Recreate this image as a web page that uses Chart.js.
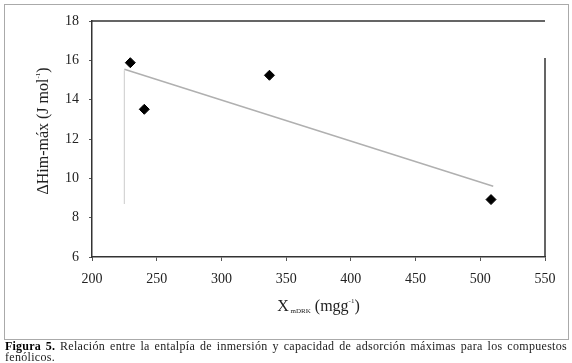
<!DOCTYPE html>
<html>
<head>
<meta charset="utf-8">
<script src="https://cdn.jsdelivr.net/npm/chart.js@4"></script>
<style>
  html, body { margin: 0; padding: 0; background: #fff; }
  #wrap { position: relative; width: 572px; height: 363px; overflow: hidden; }
  #frame { position: absolute; left: 4px; top: 4px; width: 563px; height: 334px; border: 1px solid #aaa; }
  #chart { position: absolute; left: 0; top: 0; }
  #caption {
    position: absolute; left: 5px; top: 341px; width: 562px;
    font-family: "Liberation Serif", "Times New Roman", serif; font-size: 12px;
    letter-spacing: 0.3px; line-height: 11px; color: #222; text-align: justify;
  }
  #caption b { color: #000; letter-spacing: 0.2px; }
</style>
</head>
<body>
<div id="wrap">
  <div id="frame"></div>
  <canvas id="chart" width="572" height="340"></canvas>
  <div id="caption"><b>Figura 5.</b> Relación entre la entalpía de inmersión y capacidad de adsorción máximas para los compuestos fenólicos.</div>
</div>
<script>
// data
const capacity = [229.6, 240.4, 337.1, 508.3];      // X mDRK (mg g-1)
const enthalpy = [15.88, 13.51, 15.24, 8.92];       // ΔHim-máx (J mol-1)
const trendX = [225, 510];
const trendY = [15.55, 9.6];
const guideX = [225, 225];
const guideY = [15.5, 8.7];
const xTicks = [200, 250, 300, 350, 400, 450, 500, 550];
const yTicks = [6, 8, 10, 12, 14, 16, 18];

const serif = '"Liberation Serif", "Times New Roman", serif';
const toPts = (xs, ys) => xs.map((x, i) => ({ x, y: ys[i] }));

const frameLines = {
  id: 'frameLines',
  afterDraw(chart) {
    const { ctx, chartArea: a } = chart;
    ctx.save();
    ctx.strokeStyle = '#333';
    ctx.lineWidth = 1.5;
    ctx.beginPath();
    ctx.moveTo(a.left, a.top);
    ctx.lineTo(a.right, a.top);
    ctx.moveTo(a.right, a.top + 37);
    ctx.lineTo(a.right, a.bottom);
    ctx.stroke();

    // x title with subscript and superscript
    ctx.fillStyle = '#222';
    ctx.textBaseline = 'alphabetic';
    const y = 311;
    const parts = [
      { t: 'X', f: '16px', dy: 0 },
      { t: ' mDRK', f: '7px', dy: 2 },
      { t: ' (mgg', f: '16px', dy: 0 },
      { t: '-1', f: '7px', dy: -8 },
      { t: ')', f: '16px', dy: 0 },
    ];
    let w = 0;
    parts.forEach(p => { ctx.font = p.f + ' ' + serif; w += ctx.measureText(p.t).width; });
    let x = (a.left + a.right) / 2 - w / 2;
    parts.forEach(p => {
      ctx.font = p.f + ' ' + serif;
      ctx.fillText(p.t, x, y + p.dy);
      x += ctx.measureText(p.t).width;
    });

    // y title, rotated
    ctx.translate(48, 131);
    ctx.rotate(-Math.PI / 2);
    const yparts = [
      { t: 'ΔHim-máx (J mol', f: '16px', dy: 0 },
      { t: '-1', f: '7px', dy: -8 },
      { t: ')', f: '16px', dy: 0 },
    ];
    w = 0;
    yparts.forEach(p => { ctx.font = p.f + ' ' + serif; w += ctx.measureText(p.t).width; });
    x = -w / 2;
    yparts.forEach(p => {
      ctx.font = p.f + ' ' + serif;
      ctx.fillText(p.t, x, p.dy);
      x += ctx.measureText(p.t).width;
    });
    ctx.restore();
  }
};

new Chart(document.getElementById('chart'), {
  type: 'scatter',
  data: {
    datasets: [
      {
        data: toPts(guideX, guideY),
        showLine: true,
        borderColor: '#d4d4d4',
        borderWidth: 1.2,
        pointRadius: 0,
      },
      {
        data: toPts(trendX, trendY),
        showLine: true,
        borderColor: '#b0b0b0',
        borderWidth: 1.5,
        pointRadius: 0,
      },
      {
        data: toPts(capacity, enthalpy),
        pointStyle: 'rectRot',
        pointRadius: 5,
        backgroundColor: '#000',
        borderColor: '#000',
        borderWidth: 1,
      },
    ],
  },
  options: {
    responsive: false,
    animation: false,
    layout: { padding: { top: 21, right: 27, left: 0, bottom: 0 } },
    plugins: {
      legend: { display: false },
      tooltip: { enabled: false },
    },
    scales: {
      x: {
        type: 'linear',
        min: xTicks[0],
        max: xTicks[xTicks.length - 1],
        afterFit: (s) => { s.height = 83; },
        afterBuildTicks: (s) => { s.ticks = xTicks.map(v => ({ value: v })); },
        border: { color: '#333', width: 1.5 },
        grid: { drawOnChartArea: false, tickLength: 4, color: '#555' },
        ticks: { color: '#222', padding: 10, font: { family: serif, size: 14 } },
      },
      y: {
        type: 'linear',
        min: yTicks[0],
        max: yTicks[yTicks.length - 1],
        afterFit: (s) => { s.width = 92; },
        afterBuildTicks: (s) => { s.ticks = yTicks.map(v => ({ value: v })); },
        border: { color: '#333', width: 1.5 },
        grid: { drawOnChartArea: false, tickLength: 3, color: '#555' },
        ticks: { color: '#222', padding: 10, font: { family: serif, size: 14 } },
      },
    },
  },
  plugins: [frameLines],
});
</script>
</body>
</html>
